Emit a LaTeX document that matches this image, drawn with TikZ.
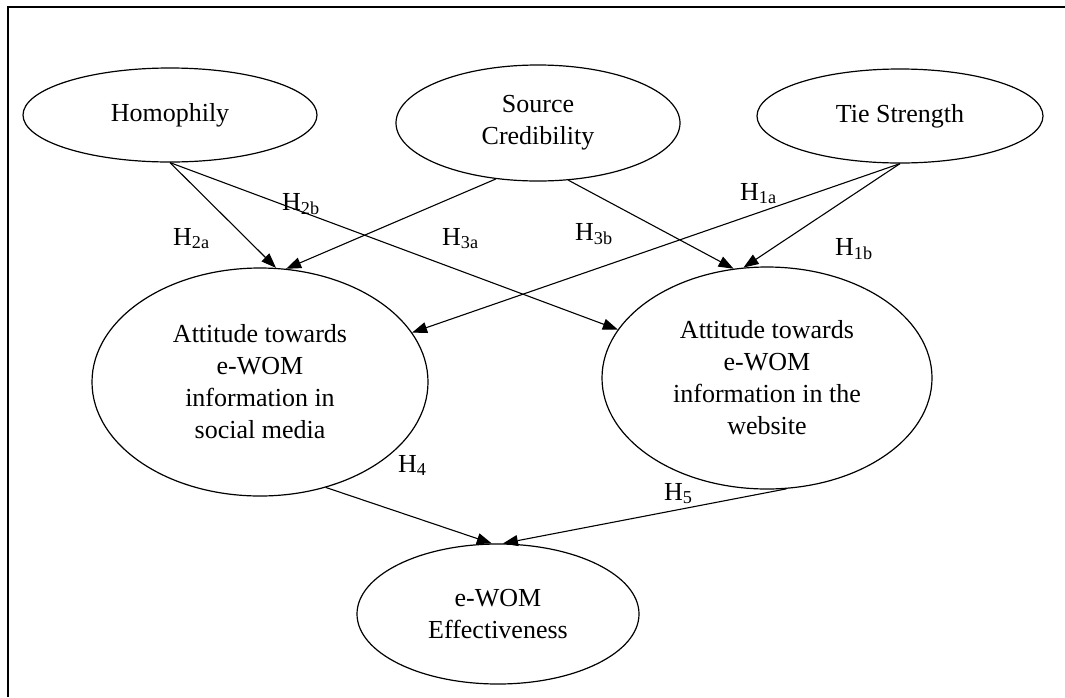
\documentclass[tikz,border=0pt]{standalone}
\usepackage{fontspec}
\setmainfont{Liberation Serif}
\usetikzlibrary{shapes.geometric,arrows.meta}

\begin{document}
\begin{tikzpicture}[x=1pt,y=-1pt,
    construct/.style={draw, ellipse, line width=1.2pt, inner sep=0pt, align=center,
      font=\fontsize{26}{32}\selectfont},
    hyp/.style={-{Triangle[length=15pt,width=11pt]}, line width=1.1pt},
    hlabel/.style={font=\fontsize{26}{32}\selectfont, inner sep=0pt, anchor=base west}]
  \useasboundingbox (0,0) rectangle (1065,697);
  \draw[line width=2pt] (8,697) -- (8,7) -- (1065,7);
  % antecedents
  \node[construct, minimum width=294pt, minimum height=94pt] (hom) at (170,115) {Homophily};
  \node[construct, minimum width=284pt, minimum height=116pt] (src) at (538,123) {Source\\Credibility};
  \node[construct, minimum width=286pt, minimum height=94pt] (tie) at (900,116) {Tie Strength};
  % attitudes
  \node[construct, minimum width=336pt, minimum height=228pt] (soc) at (260,382)
    {Attitude towards\\e-WOM\\information in\\social media};
  \node[construct, minimum width=330pt, minimum height=222pt] (web) at (767,378)
    {Attitude towards\\e-WOM\\information in the\\website};
  % outcome
  \node[construct, minimum width=282pt, minimum height=140pt] (eff) at (498,614)
    {e-WOM\\Effectiveness};
  % hypotheses
  \draw[hyp] (hom.south) -- (soc.82);
  \draw[hyp] (hom.south) -- (web.162);
  \draw[hyp] (src.-127) -- (soc.77);
  \draw[hyp] (src.-62) -- (web.107);
  \draw[hyp] (tie.south) -- (soc.18);
  \draw[hyp] (tie.south) -- (web.102);
  \draw[hyp] (soc.-58) -- (eff.95);
  \draw[hyp] (web.-80) -- (eff.86);
  \node[hlabel] (h2a) at (173,245) {H\textsubscript{2a}};
  \node[hlabel] (h2b) at (282,210) {H\textsubscript{2b}};
  \node[hlabel] (h3a) at (442,245) {H\textsubscript{3a}};
  \node[hlabel] (h3b) at (575,240) {H\textsubscript{3b}};
  \node[hlabel] (h1a) at (740,200) {H\textsubscript{1a}};
  \node[hlabel] (h1b) at (835,255) {H\textsubscript{1b}};
  \node[hlabel] (h4) at (398,472) {H\textsubscript{4}};
  \node[hlabel] (h5) at (664,500) {H\textsubscript{5}};
\end{tikzpicture}
\end{document}
